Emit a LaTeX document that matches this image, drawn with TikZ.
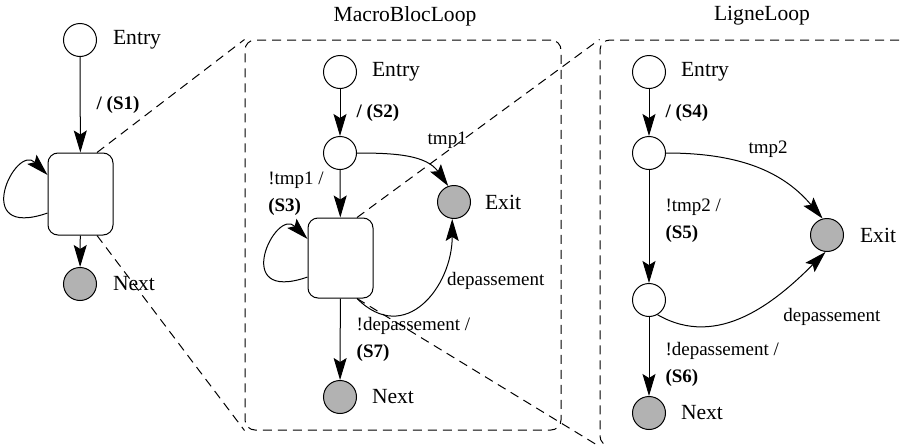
\documentclass[tikz,border=0pt]{standalone}
\usepackage{fontspec}
\setmainfont{Liberation Serif}
\usetikzlibrary{arrows.meta,calc}

\begin{document}
\begin{tikzpicture}[x=0.5pt,y=0.5pt,
  state/.style={draw, circle, minimum size=16.5pt, inner sep=0pt, line width=0.5pt},
  final/.style={state, fill=black!30},
  block/.style={draw, rectangle, rounded corners=5pt, minimum width=32.5pt, minimum height=41pt, line width=0.5pt},
  loopframe/.style={draw, dash pattern=on 4.5pt off 3pt, rounded corners=5pt, line width=0.5pt},
  zoomline/.style={dash pattern=on 4.5pt off 3pt, line width=0.5pt},
  trans/.style={line width=0.5pt, -{Stealth[length=11pt,width=6.5pt,inset=2pt]}},
  stname/.style={font=\fontsize{10.8}{13}\selectfont},
  lab/.style={font=\fontsize{9.5}{13.5}\selectfont, align=left, inner xsep=8pt, inner ysep=1pt}]
\useasboundingbox (0,0) rectangle (901,-445);

% frames
\node[loopframe, minimum width=158pt, minimum height=195pt] (mFrame) at (403,-235) {};
\node[stname] (mTitle) at (405,-16) {MacroBlocLoop};
\node[loopframe, minimum width=162pt, minimum height=203pt] (lFrame) at (762,-243) {};
\node[stname] (lTitle) at (762,-16) {LigneLoop};

% top level
\node[state] (sEntry) at (80,-40) {};
\node[stname] (sEntryTxt) at (137,-40) {Entry};
\node[block] (sBlock) at (80.5,-194) {};
\node[final] (sNext) at (80,-284) {};
\node[stname] (sNextTxt) at (134,-284) {Next};
\draw[trans] (sEntry) -- (sBlock) node[midway, right, lab] {\textbf{/ (S1)}};
\draw[trans] (sBlock.210) .. controls +(-78,-27) and +(-32,32) .. (sBlock.150);
\draw[trans] (sBlock) -- (sNext);
\draw[zoomline] ($(sBlock.north)!0.5!(sBlock.north east)$) -- (mFrame.north west);
\draw[zoomline] ($(sBlock.south)!0.5!(sBlock.south east)$) -- (mFrame.south west);

% MacroBlocLoop
\node[state] (mEntry) at (340,-72) {};
\node[stname] (mEntryTxt) at (396,-72) {Entry};
\node[state] (mTest) at (340,-153) {};
\node[block, minimum height=40pt] (mBlock) at (340.5,-258) {};
\node[final] (mExit) at (454,-202) {};
\node[stname] (mExitTxt) at (503,-202) {Exit};
\node[final] (mNext) at (340,-397) {};
\node[stname] (mNextTxt) at (393,-397) {Next};
\draw[trans] (mEntry) -- (mTest) node[midway, right, lab] {\textbf{/ (S2)}};
\draw[trans] (mTest) -- (mBlock) node[midway, left, lab] {!tmp1 /\\\textbf{(S3)}};
\draw[trans] (mTest.east) to[out=0, in=125] node[pos=.55, above right, lab, inner xsep=2pt, xshift=5pt, yshift=4pt] {tmp1} (mExit.110);
\draw[trans] ($(mBlock.south)!0.5!(mBlock.south east)$) to[out=-45, in=-90, looseness=1.4] node[pos=.7, right, lab, inner xsep=3pt, yshift=-3pt] {depassement} (mExit.-96);
\draw[trans] (mBlock.210) .. controls +(-78,-27) and +(-32,32) .. (mBlock.150);
\draw[trans] (mBlock) -- (mNext) node[midway, right, lab] {!depassement /\\\textbf{(S7)}};
\draw[zoomline] ($(mBlock.north)!0.5!(mBlock.north east)$) -- (lFrame.north west);
\draw[zoomline] ($(mBlock.south)!0.5!(mBlock.south east)$) -- (lFrame.south west);

% LigneLoop
\node[state] (lEntry) at (649,-72) {};
\node[stname] (lEntryTxt) at (705,-72) {Entry};
\node[state] (lTest) at (649,-153) {};
\node[state] (lCheck) at (649,-300) {};
\node[final] (lExit) at (827,-235) {};
\node[stname] (lExitTxt) at (878,-235) {Exit};
\node[final] (lNext) at (649,-413) {};
\node[stname] (lNextTxt) at (702,-413) {Next};
\draw[trans] (lEntry) -- (lTest) node[midway, right, lab] {\textbf{/ (S4)}};
\draw[trans] (lTest) -- (lCheck) node[pos=.45, right, lab] {!tmp2 /\\\textbf{(S5)}};
\draw[trans] (lCheck) -- (lNext) node[pos=.6, right, lab] {!depassement /\\\textbf{(S6)}};
\draw[trans] (lTest.east) to[out=0, in=130] node[pos=.6, above, lab, inner xsep=2pt, yshift=7pt] {tmp2} (lExit.105);
\draw[trans] (lCheck.-60) to[out=-30, in=-135] node[pos=.7, below right, lab, inner xsep=2pt, yshift=-6pt] {depassement} (lExit.-95);
\end{tikzpicture}
\end{document}
